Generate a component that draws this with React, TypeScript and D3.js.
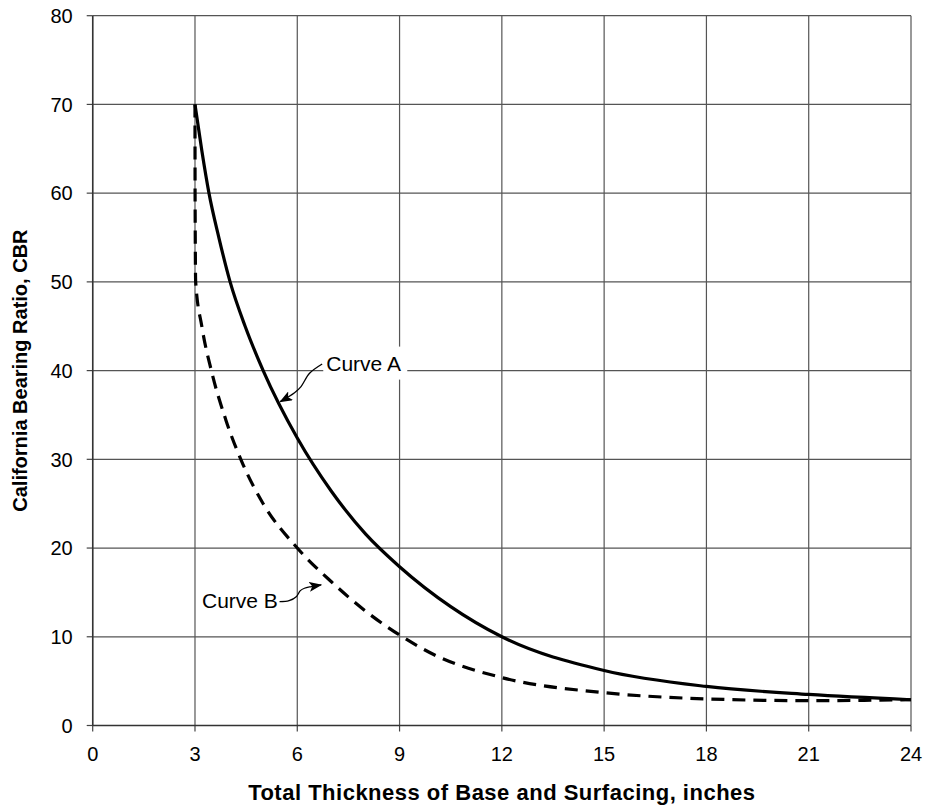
import React from "react";
import * as d3 from "d3";

const xTicks = [0, 3, 6, 9, 12, 15, 18, 21, 24];
const yTicks = [0, 10, 20, 30, 40, 50, 60, 70, 80];

const curveAX = [3, 3.2, 3.41, 3.7, 4.03, 4.47, 5, 6, 7, 8, 9, 10.5, 12, 15, 18, 21, 24];
const curveAY = [70, 64.8, 60, 55, 50, 45, 40, 32.4, 26.4, 21.6, 17.9, 13.4, 10, 6.2, 4.4, 3.5, 2.9];

const curveBX = [3, 3.003, 3.02, 3.2, 3.48, 3.9, 4.4, 5, 6, 7, 8, 9, 10, 12, 15, 18, 21, 24];
const curveBY = [70, 60, 50, 45, 40, 34.5, 29.5, 25, 20, 16.2, 12.9, 10.2, 8.0, 5.4, 3.7, 3.0, 2.8, 2.9];

const labelA = "Curve A";
const labelB = "Curve B";
const labelAPos = [6.85, 40];
const labelBPos = [5.43, 13.2];
const leaderA = [[6.73, 40.75], [6.36, 39.7], [6.11, 38.2], [5.92, 37.5], [5.5, 36.5]];
const leaderB = [[5.48, 13.96], [5.76, 14.07], [5.97, 14.52], [6.09, 15.2], [6.21, 15.47], [6.41, 15.65], [6.7, 15.84]];

const xTitle = "Total Thickness of Base and Surfacing, inches";
const yTitle = "California Bearing Ratio, CBR";

const W = 926;
const H = 806;
const M = { left: 92.7, right: 15, top: 15.7, bottom: 80.5 };

export default function App() {
  const x = d3.scaleLinear().domain([0, 24]).range([M.left, W - M.right]);
  const y = d3.scaleLinear().domain([0, 80]).range([H - M.bottom, M.top]);
  const font = "Arial, 'Liberation Sans', Helvetica, sans-serif";

  const mk = (xs: number[], ys: number[]) =>
    d3
      .line<[number, number]>()
      .x((d) => x(d[0]))
      .y((d) => y(d[1]))
      .curve(d3.curveMonotoneX)(xs.map((v, i) => [v, ys[i]] as [number, number])) || "";

  const pathA = mk(curveAX, curveAY);
  const pathB = mk(curveBX, curveBY);

  const leaderPath = (pts: number[][]) =>
    d3
      .line<number[]>()
      .x((d) => x(d[0]))
      .y((d) => y(d[1]))
      .curve(d3.curveCatmullRom.alpha(0.5))(pts) || "";

  const x0 = x(0), x1 = x(24), y0 = y(0), y1 = y(80);
  const fs = 20;

  return (
    <svg width={W} height={H} style={{ position: "absolute", left: 0, top: 0, background: "#fff" }}>
      <defs>
        <marker id="arr" viewBox="0 0 13 10" refX="12" refY="5" markerWidth="13" markerHeight="10" markerUnits="userSpaceOnUse" orient="auto">
          <path d="M0,0 L13,5 L0,10 L3,5 Z" fill="#000" />
        </marker>
      </defs>
      <rect x={0} y={0} width={W} height={H} fill="#fff" />
      {xTicks.map((t) => (
        <line key={"gx" + t} x1={x(t)} x2={x(t)} y1={y1} y2={y0} stroke="#555" strokeWidth={1.2} />
      ))}
      {yTicks.map((t) => (
        <line key={"gy" + t} x1={x0} x2={x1} y1={y(t)} y2={y(t)} stroke="#555" strokeWidth={1.2} />
      ))}
      {yTicks.map((t) => (
        <g key={"ty" + t}>
          <line x1={x0 - 6} x2={x0} y1={y(t)} y2={y(t)} stroke="#444" strokeWidth={1.2} />
          <text x={x0 - 20} y={y(t)} dy="0.36em" textAnchor="end" fontFamily={font} fontSize={fs} fill="#000">
            {t}
          </text>
        </g>
      ))}
      {xTicks.map((t) => (
        <g key={"tx" + t}>
          <line x1={x(t)} x2={x(t)} y1={y0} y2={y0 + 6} stroke="#444" strokeWidth={1.2} />
          <text x={x(t)} y={y0 + 35} textAnchor="middle" fontFamily={font} fontSize={fs} fill="#000">
            {t}
          </text>
        </g>
      ))}
      <line x1={x0} x2={x0} y1={y1} y2={y0} stroke="#333" strokeWidth={1.5} />
      <line x1={x0} x2={x1} y1={y0} y2={y0} stroke="#333" strokeWidth={1.5} />

      <path d={pathB} fill="none" stroke="#000" strokeWidth={3.2} strokeDasharray="13,8" />
      <path d={pathA} fill="none" stroke="#000" strokeWidth={3.2} />

      <rect x={x(labelAPos[0]) - 3} y={y(labelAPos[1]) - 24} width={84} height={33} fill="#fff" />
      <text x={x(labelAPos[0])} y={y(labelAPos[1])} fontFamily={font} fontSize={21} fill="#000">
        {labelA}
      </text>
      <path d={leaderPath(leaderA)} fill="none" stroke="#000" strokeWidth={1.3} markerEnd="url(#arr)" />

      <text x={x(labelBPos[0])} y={y(labelBPos[1])} textAnchor="end" fontFamily={font} fontSize={21} fill="#000">
        {labelB}
      </text>
      <path d={leaderPath(leaderB)} fill="none" stroke="#000" strokeWidth={1.3} markerEnd="url(#arr)" />

      <text x={(x0 + x1) / 2} y={800} textAnchor="middle" fontFamily={font} fontSize={22} fontWeight="bold" letterSpacing={0.5} fill="#000">
        {xTitle}
      </text>
      <text
        transform={`translate(27,${(y0 + y1) / 2}) rotate(-90)`}
        textAnchor="middle"
        fontFamily={font}
        fontSize={20}
        fontWeight="bold"
        fill="#000"
      >
        {yTitle}
      </text>
    </svg>
  );
}
